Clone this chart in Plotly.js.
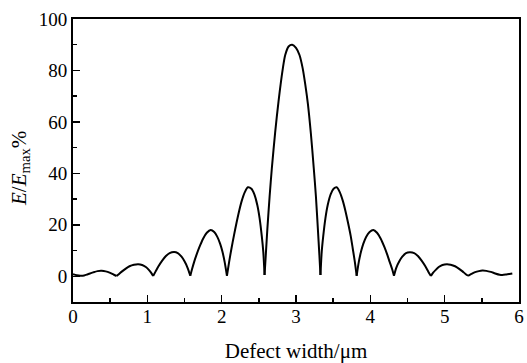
<!DOCTYPE html>
<html>
<head>
<meta charset="utf-8">
<script src="https://cdn.plot.ly/plotly-3.0.1.min.js"></script>
<style>html,body{margin:0;padding:0;background:#fff;}#chart{width:527px;height:363px;}</style>
</head>
<body>
<div id="chart"></div>
<script>
// Defect width (µm)
var defectWidth = [
  0, 0.05, 0.1, 0.15, 0.2, 0.27, 0.33, 0.385, 0.44, 0.5, 0.55, 0.586,
  0.62, 0.66, 0.71, 0.76, 0.82, 0.877, 0.93, 0.98, 1.02, 1.05, 1.078,
  1.11, 1.15, 1.2, 1.25, 1.3, 1.36, 1.41, 1.46, 1.5, 1.54, 1.578,
  1.60, 1.63, 1.66, 1.70, 1.75, 1.80, 1.852, 1.90, 1.94, 1.98, 2.01, 2.04, 2.071,
  2.10, 2.13, 2.165, 2.20, 2.235, 2.27, 2.31, 2.353, 2.40, 2.44, 2.48, 2.51, 2.54, 2.56, 2.577,
  2.595, 2.615, 2.645, 2.675, 2.72, 2.765, 2.823, 2.855, 2.90, 2.949, 3.00, 3.047, 3.09, 3.125, 3.16, 3.20, 3.239, 3.268, 3.295, 3.315, 3.329,
  3.346, 3.366, 3.396, 3.426, 3.466, 3.506, 3.547, 3.59, 3.63, 3.665, 3.70, 3.735, 3.765, 3.792, 3.816,
  3.845, 3.875, 3.905, 3.945, 3.99, 4.04, 4.09, 4.14, 4.19, 4.23, 4.26, 4.295, 4.318,
  4.35, 4.39, 4.43, 4.48, 4.533, 4.59, 4.64, 4.69, 4.74, 4.78, 4.815,
  4.845, 4.88, 4.92, 4.97, 5.03, 5.08, 5.14, 5.19, 5.24, 5.28, 5.315,
  5.36, 5.41, 5.46, 5.507, 5.56, 5.62, 5.68, 5.74, 5.776, 5.83, 5.87, 5.91
];
// E/Emax (%)
var energyRatio = [
  0.8, 0.4, 0.2, 0.3, 0.8, 1.5, 2.0, 2.1, 1.9, 1.3, 0.6, 0.1,
  0.9, 1.9, 3.0, 3.9, 4.5, 4.7, 4.4, 3.6, 2.5, 1.4, 0.1,
  1.8, 3.9, 6.1, 7.9, 9.0, 9.4, 9.0, 7.6, 5.8, 3.4, 0.2,
  2.6, 5.6, 8.2, 11.3, 14.6, 16.9, 18.0, 17.2, 15.4, 12.6, 9.6, 5.6, 0.2,
  5.5, 10.5, 15.8, 20.8, 25.4, 29.3, 32.6, 34.6, 34.0, 31.8, 27.6, 22.6, 15.5, 9.5, 0.5,
  9, 18.5, 31, 42, 56, 68, 80.8, 86, 89.3, 90, 88.8, 86, 80.8, 74.5, 67, 55.5, 42, 31, 18, 8, 0.5,
  9.5, 15.5, 22.6, 27.6, 31.8, 34.0, 34.6, 32.6, 29.3, 25.4, 20.8, 15.8, 10.5, 5.5, 0.2,
  5.6, 9.6, 12.6, 15.4, 17.2, 18.0, 16.9, 14.6, 11.3, 8.2, 5.6, 2.6, 0.2,
  3.4, 5.8, 7.6, 9.0, 9.3, 9.0, 7.9, 6.1, 3.9, 1.8, 0.1,
  1.4, 2.5, 3.6, 4.4, 4.7, 4.5, 3.9, 3.0, 1.9, 0.9, 0.2,
  0.9, 1.6, 2.0, 2.2, 2.1, 1.7, 1.1, 0.6, 0.5, 0.7, 0.9, 1.1
];
// widths where the curve has sharp minima (cusps)
var cuspWidths = [0.586, 1.078, 1.578, 2.071, 2.577, 3.329, 3.816, 4.318, 4.815, 5.315];
var xTickVals = [0, 1, 2, 3, 4, 5, 6];
var yTickVals = [0, 20, 40, 60, 80, 100];

var serif = 'Liberation Serif, Times New Roman, serif';

// split the curve into lobes at the cusps, each drawn as a smooth spline
var traces = [];
var segX = [], segY = [];
for (var i = 0; i < defectWidth.length; i++) {
  segX.push(defectWidth[i]); segY.push(energyRatio[i]);
  if (cuspWidths.indexOf(defectWidth[i]) >= 0 || i === defectWidth.length - 1) {
    traces.push({
      x: segX, y: segY, type: 'scatter', mode: 'lines',
      line: {color: '#000', width: 2, shape: 'spline', smoothing: 0.8}, hoverinfo: 'none'
    });
    segX = [defectWidth[i]]; segY = [energyRatio[i]];
  }
}

var axisCommon = {
  showline: true, mirror: true, linecolor: '#000', linewidth: 2,
  ticks: 'inside', ticklen: 7, tickwidth: 1.5, tickcolor: '#000',
  showgrid: false, zeroline: false,
  tickfont: {family: serif, size: 19, color: '#000'}
};
var layout = {
  width: 527, height: 363,
  margin: {l: 73, r: 8, t: 19, b: 61},
  paper_bgcolor: '#fff', plot_bgcolor: '#fff',
  showlegend: false,
  xaxis: Object.assign({}, axisCommon, {
    range: [0, 6], tickvals: xTickVals, ticklabelstandoff: -4,
    minor: {dtick: 0.5, ticks: 'inside', ticklen: 4, tickwidth: 1.5, tickcolor: '#000', showgrid: false},
    title: {text: 'Defect width/μm', font: {family: serif, size: 21, color: '#000'}, standoff: 18}
  }),
  yaxis: Object.assign({}, axisCommon, {
    range: [-10, 100], tickvals: yTickVals,
    minor: {dtick: 10, ticks: 'inside', ticklen: 4, tickwidth: 1.5, tickcolor: '#000', showgrid: false}
  }),
  annotations: [{
    text: '<i>E</i>/<i>E</i><sub>max</sub>%', textangle: -90,
    xref: 'paper', yref: 'paper', x: 0, y: 0.47, xshift: -53, xanchor: 'center', yanchor: 'middle',
    showarrow: false, font: {family: serif, size: 21, color: '#000'}
  }]
};
Plotly.newPlot('chart', traces, layout, {displayModeBar: false, staticPlot: true});
</script>
</body>
</html>
